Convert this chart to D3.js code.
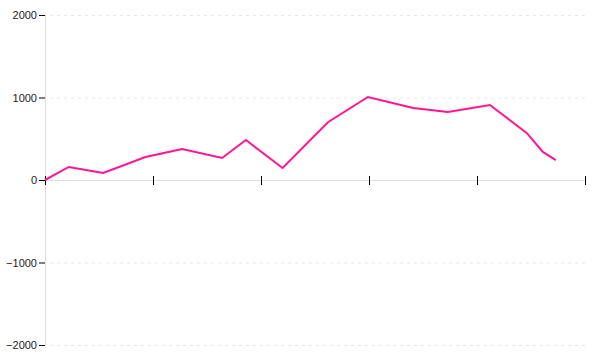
<!DOCTYPE html>
<html>
<head>
<meta charset="utf-8">
<title>line chart</title>
<style>
  body { margin: 0; background: #fff; }
  svg { display: block; }
  .tick text { font-family: "Liberation Sans", Arial, sans-serif; font-size: 11px; fill: #222; }
</style>
</head>
<body>
<div id="chart"></div>
<script src="https://d3js.org/d3.v7.min.js"></script>
<script>
// data
const xs = [0, 22, 54, 93, 127, 164, 186, 220, 262, 299, 341, 373, 412, 446, 461, 473];
const values = [0, 158, 85, 279, 376, 267, 485, 145, 700, 1006, 873, 824, 909, 570, 340, 242];
const xTicks = [0, 100, 200, 300, 400, 500];
const yTicks = [-2000, -1000, 0, 1000, 2000];

const width = 600;
const height = 360;
const margin = { top: 15, right: 15, bottom: 15, left: 45 };

const svg = d3.select('#chart')
  .append('svg')
  .attr('width', width)
  .attr('height', height);

const x = d3.scaleLinear()
  .domain([0, 500])
  .range([margin.left, width - margin.right]);

const y = d3.scaleLinear()
  .domain([-2000, 2000])
  .range([height - margin.bottom, margin.top]);

// dashed grid lines
svg.append('g')
  .attr('transform', `translate(${margin.left},0)`)
  .call(d3.axisLeft(y).tickValues(yTicks.filter(d => d !== 0))
    .tickSize(-(width - margin.left - margin.right)).tickFormat(''))
  .call(g => g.select('.domain').remove())
  .call(g => g.selectAll('.tick line')
    .attr('x1', 5)
    .attr('stroke', '#e6e6e6')
    .attr('stroke-dasharray', '3,4'));

// y axis
svg.append('g')
  .attr('transform', `translate(${margin.left},0)`)
  .call(d3.axisLeft(y).tickValues(yTicks).tickSize(6).tickPadding(2).tickFormat(d3.format('d')))
  .call(g => g.select('.domain').attr('stroke', '#ddd').attr('d', `M0.5,${margin.top}V${height - margin.bottom}`))
  .call(g => g.selectAll('.tick line').attr('stroke', '#000'));

// x axis on zero line, no labels
svg.append('g')
  .attr('transform', `translate(0,${y(0)})`)
  .call(d3.axisBottom(x).tickValues(xTicks).tickSize(5).tickFormat(''))
  .call(g => g.select('.domain').attr('stroke', '#ddd').attr('d', `M${margin.left},0.5H${width - margin.right}`))
  .call(g => g.selectAll('.tick line').attr('y1', -4).attr('stroke', '#000'));

const line = d3.line()
  .x((d, i) => x(xs[i]))
  .y(d => y(d));

svg.append('path')
  .datum(values)
  .attr('fill', 'none')
  .attr('stroke', '#ff1493')
  .attr('stroke-width', 2)
  .attr('d', line);
</script>
</body>
</html>
